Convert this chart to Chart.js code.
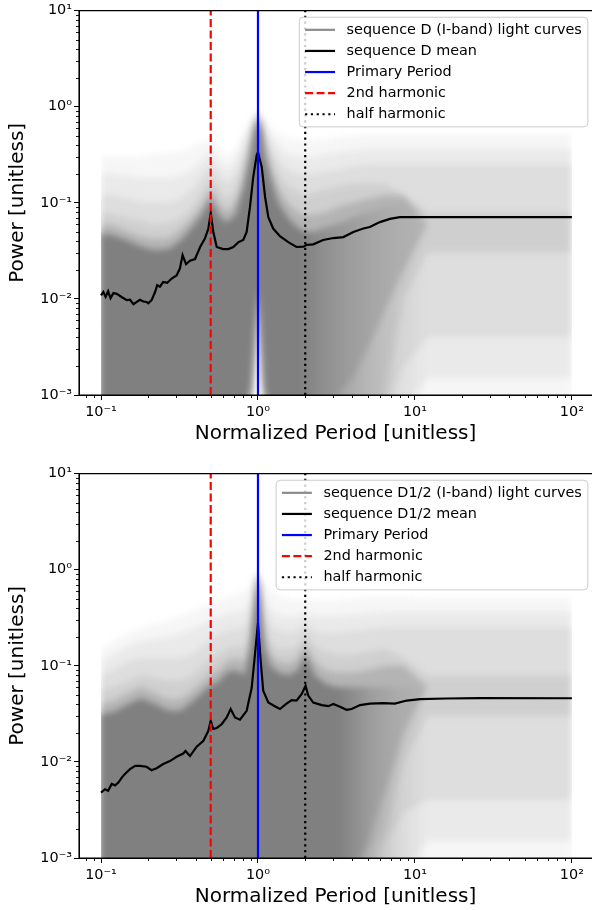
<!DOCTYPE html>
<html>
<head>
<meta charset="utf-8">
<script src="https://cdn.jsdelivr.net/npm/chart.js@4.4.1/dist/chart.umd.min.js"></script>
<style>
  html, body { margin: 0; padding: 0; background: #fff; overflow: hidden; }
  body { width: 592px; height: 910px; position: relative; }
  canvas { position: absolute; left: 0; }
  #chartD { top: 0; }
  #chartHalf { top: 463px; }
</style>
</head>
<body>
<canvas id="chartD" width="592" height="460"></canvas>
<canvas id="chartHalf" width="592" height="460"></canvas>
<script>
const cloudPeriods = [0.1, 0.12, 0.15, 0.18, 0.22, 0.27, 0.32, 0.38, 0.44, 0.5,
  0.56, 0.63, 0.72, 0.82, 0.9, 0.95, 1.0, 1.05, 1.1, 1.2,
  1.35, 1.55, 1.8, 2.0, 2.3, 2.7, 3.2, 4.0, 5.0, 6.5,
  8.5, 12, 20, 35, 60, 100];

// ---- sequence D: saturated core of the cloud + halo bands (1 = innermost)
// (the curves run on below 1e-3, so the floors sit a little under the axis)
const coreLoD = [0.0007, 0.0007, 0.0007, 0.0007, 0.0007, 0.0007, 0.0007, 0.0007, 0.0007, 0.0007,
  0.0007, 0.0007, 0.0007, 0.0007, 0.0012, 0.005, 0.013, 0.005, 0.0012, 0.0007,
  0.0007, 0.0007, 0.0007, 0.0007, 0.0007, 0.0007, 0.0007, 0.0007, 0.0007, 0.0007,
  0.0007, 0.0007, 0.0007, 0.0007, 0.0007, 0.0007];
const coreHiD = [0.048, 0.046, 0.040, 0.035, 0.032, 0.033, 0.040, 0.055, 0.075, 0.11,
  0.075, 0.062, 0.075, 0.15, 0.32, 0.55, 0.72, 0.55, 0.32, 0.18,
  0.10, 0.07, 0.055, 0.05, 0.05, 0.055, 0.06, 0.07, 0.08, 0.09,
  0.1, 0.1, 0.1, 0.1, 0.1, 0.1];
const halo1LoD = [0.0007, 0.0007, 0.0007, 0.0007, 0.0007, 0.0007, 0.0007, 0.0007, 0.0007, 0.0007,
  0.0007, 0.0007, 0.0007, 0.0007, 0.0009, 0.003, 0.01, 0.003, 0.0009, 0.0007,
  0.0007, 0.0007, 0.0007, 0.0007, 0.0007, 0.0007, 0.001, 0.0015, 0.003, 0.008,
  0.02, 0.06, 0.06, 0.06, 0.06, 0.06];
const halo1HiD = [0.06, 0.058, 0.05, 0.045, 0.042, 0.043, 0.052, 0.07, 0.095, 0.14,
  0.1, 0.08, 0.1, 0.2, 0.4, 0.62, 0.78, 0.62, 0.42, 0.24,
  0.14, 0.1, 0.08, 0.075, 0.075, 0.08, 0.09, 0.1, 0.11, 0.12,
  0.12, 0.06, 0.06, 0.06, 0.06, 0.06];
const halo2LoD = [0.0007, 0.0007, 0.0007, 0.0007, 0.0007, 0.0007, 0.0007, 0.0007, 0.0007, 0.0007,
  0.0007, 0.0007, 0.0007, 0.0007, 0.0007, 0.0025, 0.008, 0.0025, 0.0007, 0.0007,
  0.0007, 0.0007, 0.0007, 0.0007, 0.0007, 0.0007, 0.0007, 0.0007, 0.0007, 0.001,
  0.01, 0.03, 0.03, 0.03, 0.03, 0.03];
const halo2HiD = [0.08, 0.075, 0.07, 0.065, 0.06, 0.062, 0.07, 0.09, 0.13, 0.18,
  0.14, 0.11, 0.14, 0.28, 0.5, 0.7, 0.82, 0.7, 0.5, 0.32,
  0.2, 0.15, 0.13, 0.12, 0.13, 0.14, 0.15, 0.16, 0.16, 0.16,
  0.12, 0.08, 0.08, 0.08, 0.08, 0.08];
const halo3LoD = [0.0007, 0.0007, 0.0007, 0.0007, 0.0007, 0.0007, 0.0007, 0.0007, 0.0007, 0.0007,
  0.0007, 0.0007, 0.0007, 0.0007, 0.0007, 0.002, 0.006, 0.002, 0.0007, 0.0007,
  0.0007, 0.0007, 0.0007, 0.0007, 0.0007, 0.0007, 0.0007, 0.0007, 0.0007, 0.0007,
  0.002, 0.004, 0.004, 0.004, 0.004, 0.004];
const halo3HiD = [0.12, 0.12, 0.11, 0.1, 0.1, 0.1, 0.11, 0.14, 0.19, 0.25,
  0.2, 0.16, 0.2, 0.36, 0.58, 0.76, 0.86, 0.76, 0.58, 0.4,
  0.28, 0.22, 0.2, 0.2, 0.2, 0.21, 0.22, 0.24, 0.25, 0.25,
  0.25, 0.25, 0.25, 0.25, 0.25, 0.25];
const halo4LoD = [0.0007, 0.0007, 0.0007, 0.0007, 0.0007, 0.0007, 0.0007, 0.0007, 0.0007, 0.0007,
  0.0007, 0.0007, 0.0007, 0.0007, 0.0007, 0.002, 0.006, 0.002, 0.0007, 0.0007,
  0.0007, 0.0007, 0.0007, 0.0007, 0.0007, 0.0007, 0.0007, 0.0007, 0.0007, 0.0007,
  0.0007, 0.0015, 0.0015, 0.0015, 0.0015, 0.0015];
const halo4HiD = [0.2, 0.2, 0.19, 0.18, 0.18, 0.18, 0.19, 0.22, 0.28, 0.33,
  0.27, 0.22, 0.27, 0.45, 0.65, 0.8, 0.88, 0.8, 0.65, 0.5,
  0.38, 0.32, 0.3, 0.3, 0.3, 0.32, 0.33, 0.35, 0.36, 0.36,
  0.36, 0.36, 0.36, 0.36, 0.36, 0.36];
const halo5LoD = [0.0007, 0.0007, 0.0007, 0.0007, 0.0007, 0.0007, 0.0007, 0.0007, 0.0007, 0.0007,
  0.0007, 0.0007, 0.0007, 0.0007, 0.0007, 0.0015, 0.004, 0.0015, 0.0007, 0.0007,
  0.0007, 0.0007, 0.0007, 0.0007, 0.0007, 0.0007, 0.0007, 0.0007, 0.0007, 0.0007,
  0.0007, 0.0007, 0.0007, 0.0007, 0.0007, 0.0007];
const halo5HiD = [0.3, 0.3, 0.3, 0.3, 0.32, 0.33, 0.34, 0.38, 0.43, 0.45,
  0.36, 0.3, 0.36, 0.55, 0.72, 0.85, 0.92, 0.85, 0.75, 0.62,
  0.52, 0.47, 0.45, 0.45, 0.45, 0.46, 0.48, 0.5, 0.52, 0.52,
  0.52, 0.52, 0.52, 0.52, 0.52, 0.52];

const meanPeriodD = [0.1, 0.1035, 0.107, 0.111, 0.115, 0.12, 0.126, 0.136, 0.146, 0.153,
  0.161, 0.169, 0.177, 0.186, 0.195, 0.2, 0.21, 0.221, 0.228, 0.237,
  0.249, 0.264, 0.282, 0.303, 0.318, 0.331, 0.348, 0.369, 0.397, 0.428,
  0.459, 0.483, 0.5, 0.519, 0.546, 0.6, 0.647, 0.697, 0.75, 0.806,
  0.847, 0.889, 0.933, 0.98, 1.0, 1.057, 1.11, 1.164, 1.25, 1.38,
  1.56, 1.76, 1.95, 2.04, 2.25, 2.6, 3.02, 3.5, 4.05, 4.69,
  5.16, 5.98, 6.93, 8.02, 9.7, 20, 50, 100];
const meanPowerD = [0.0109, 0.0118, 0.0105, 0.012, 0.0102, 0.0115, 0.0113, 0.0104, 0.0097, 0.0098,
  0.0088, 0.0093, 0.0098, 0.0094, 0.0093, 0.009, 0.0097, 0.0118, 0.0139, 0.0134,
  0.015, 0.0147, 0.0163, 0.0175, 0.0207, 0.0285, 0.023, 0.025, 0.026, 0.0347,
  0.0424, 0.054, 0.078, 0.05, 0.0347, 0.033, 0.033, 0.0347, 0.039, 0.041,
  0.0498, 0.09, 0.185, 0.31, 0.337, 0.235, 0.115, 0.071, 0.054, 0.045,
  0.039, 0.0347, 0.035, 0.0365, 0.037, 0.041, 0.043, 0.044, 0.0498, 0.054,
  0.056, 0.063, 0.068, 0.071, 0.071, 0.071, 0.071, 0.071];

// ---- sequence D1/2
const coreLoHalf = [0.0007, 0.0007, 0.0007, 0.0007, 0.0007, 0.0007, 0.0007, 0.0007, 0.0007, 0.0007,
  0.0007, 0.0007, 0.0007, 0.0007, 0.0007, 0.0007, 0.0007, 0.0007, 0.0007, 0.0007,
  0.0007, 0.0007, 0.0007, 0.0007, 0.0007, 0.0007, 0.0007, 0.0007, 0.0007, 0.0007,
  0.0007, 0.0007, 0.0007, 0.0007, 0.0007, 0.0007];
const coreHiHalf = [0.031, 0.033, 0.04, 0.046, 0.04, 0.034, 0.034, 0.042, 0.052, 0.063,
  0.068, 0.085, 0.09, 0.08, 0.15, 0.35, 0.85, 0.3, 0.15, 0.1,
  0.085, 0.08, 0.09, 0.13, 0.08, 0.065, 0.06, 0.06, 0.06, 0.06,
  0.06, 0.06, 0.06, 0.06, 0.06, 0.06];
const halo1LoHalf = [0.0007, 0.0007, 0.0007, 0.0007, 0.0007, 0.0007, 0.0007, 0.0007, 0.0007, 0.0007,
  0.0007, 0.0007, 0.0007, 0.0007, 0.0007, 0.0007, 0.0007, 0.0007, 0.0007, 0.0007,
  0.0007, 0.0007, 0.0007, 0.0007, 0.0007, 0.0007, 0.0007, 0.0007, 0.0015, 0.005,
  0.02, 0.06, 0.06, 0.06, 0.06, 0.06];
const halo1HiHalf = [0.04, 0.043, 0.052, 0.06, 0.052, 0.045, 0.045, 0.055, 0.068, 0.082,
  0.09, 0.11, 0.12, 0.11, 0.2, 0.45, 0.9, 0.4, 0.2, 0.13,
  0.11, 0.105, 0.12, 0.17, 0.11, 0.09, 0.085, 0.085, 0.09, 0.1,
  0.1, 0.06, 0.06, 0.06, 0.06, 0.06];
const halo2LoHalf = [0.0007, 0.0007, 0.0007, 0.0007, 0.0007, 0.0007, 0.0007, 0.0007, 0.0007, 0.0007,
  0.0007, 0.0007, 0.0007, 0.0007, 0.0007, 0.0007, 0.0007, 0.0007, 0.0007, 0.0007,
  0.0007, 0.0007, 0.0007, 0.0007, 0.0007, 0.0007, 0.0007, 0.0007, 0.0012, 0.002,
  0.01, 0.03, 0.03, 0.03, 0.03, 0.03];
const halo2HiHalf = [0.055, 0.06, 0.07, 0.08, 0.075, 0.07, 0.07, 0.08, 0.1, 0.12,
  0.13, 0.15, 0.16, 0.16, 0.28, 0.55, 0.92, 0.5, 0.28, 0.18,
  0.15, 0.15, 0.16, 0.22, 0.16, 0.14, 0.13, 0.13, 0.14, 0.15,
  0.12, 0.08, 0.08, 0.08, 0.08, 0.08];
const halo3LoHalf = [0.0007, 0.0007, 0.0007, 0.0007, 0.0007, 0.0007, 0.0007, 0.0007, 0.0007, 0.0007,
  0.0007, 0.0007, 0.0007, 0.0007, 0.0007, 0.0007, 0.0007, 0.0007, 0.0007, 0.0007,
  0.0007, 0.0007, 0.0007, 0.0007, 0.0007, 0.0007, 0.0007, 0.0007, 0.0007, 0.0015,
  0.003, 0.004, 0.004, 0.004, 0.004, 0.004];
const halo3HiHalf = [0.08, 0.09, 0.11, 0.12, 0.12, 0.12, 0.12, 0.13, 0.16, 0.19,
  0.21, 0.23, 0.24, 0.25, 0.38, 0.65, 0.95, 0.6, 0.38, 0.27,
  0.23, 0.22, 0.23, 0.28, 0.23, 0.22, 0.22, 0.23, 0.24, 0.25,
  0.25, 0.25, 0.25, 0.25, 0.25, 0.25];
const halo4LoHalf = [0.0007, 0.0007, 0.0007, 0.0007, 0.0007, 0.0007, 0.0007, 0.0007, 0.0007, 0.0007,
  0.0007, 0.0007, 0.0007, 0.0007, 0.0007, 0.0007, 0.0007, 0.0007, 0.0007, 0.0007,
  0.0007, 0.0007, 0.0007, 0.0007, 0.0007, 0.0007, 0.0007, 0.0007, 0.0007, 0.0007,
  0.0007, 0.0015, 0.0015, 0.0015, 0.0015, 0.0015];
const halo4HiHalf = [0.11, 0.13, 0.16, 0.18, 0.19, 0.2, 0.22, 0.24, 0.27, 0.3,
  0.32, 0.35, 0.36, 0.38, 0.5, 0.75, 0.98, 0.7, 0.5, 0.38,
  0.33, 0.32, 0.33, 0.36, 0.33, 0.33, 0.33, 0.34, 0.35, 0.36,
  0.36, 0.36, 0.36, 0.36, 0.36, 0.36];
const halo5LoHalf = coreLoHalf;
const halo5HiHalf = [0.15, 0.18, 0.22, 0.25, 0.27, 0.3, 0.33, 0.37, 0.41, 0.45,
  0.48, 0.52, 0.55, 0.6, 0.7, 0.85, 1.0, 0.82, 0.7, 0.6,
  0.55, 0.5, 0.48, 0.5, 0.48, 0.48, 0.48, 0.5, 0.52, 0.52,
  0.52, 0.5, 0.5, 0.5, 0.5, 0.5];

const meanPeriodHalf = [0.1, 0.106, 0.111, 0.117, 0.123, 0.129, 0.136, 0.142, 0.153, 0.165,
  0.177, 0.195, 0.21, 0.226, 0.249, 0.275, 0.303, 0.334, 0.345, 0.369,
  0.407, 0.449, 0.483, 0.5, 0.519, 0.546, 0.587, 0.632, 0.67, 0.714,
  0.768, 0.847, 0.912, 0.957, 1.0, 1.04, 1.08, 1.164, 1.28, 1.38,
  1.52, 1.64, 1.76, 1.9, 2.01, 2.09, 2.25, 2.55, 2.81, 3.02,
  3.33, 3.67, 3.95, 4.47, 5.16, 6.28, 7.46, 8.86, 10.8, 15.9,
  26, 100];
const meanPowerHalf = [0.0048, 0.0052, 0.005, 0.0059, 0.0057, 0.0061, 0.0069, 0.0075, 0.0084, 0.0091,
  0.0091, 0.0089, 0.0082, 0.0086, 0.0095, 0.0102, 0.0113, 0.0122, 0.013, 0.0115,
  0.0144, 0.0166, 0.0211, 0.0268, 0.022, 0.0225, 0.0247, 0.029, 0.0355, 0.029,
  0.0275, 0.034, 0.059, 0.132, 0.28, 0.113, 0.055, 0.0415, 0.038, 0.0355,
  0.0405, 0.044, 0.0435, 0.051, 0.062, 0.049, 0.0415, 0.039, 0.038, 0.04,
  0.0375, 0.0348, 0.0355, 0.039, 0.0405, 0.041, 0.0405, 0.0435, 0.045, 0.0457,
  0.0462, 0.046];

// reference periods and axes
const harmonicPeriods = [1, 0.5, 2];
const xTickValues = [0.1, 1, 10, 100];
const xTickLabels = ['10\u207b\u00b9', '10\u2070', '10\u00b9', '10\u00b2'];
const yTickValues = [0.001, 0.01, 0.1, 1, 10];
const yTickLabels = ['10\u207b\u00b3', '10\u207b\u00b2', '10\u207b\u00b9', '10\u2070', '10\u00b9'];
const legendLabelsD = ['sequence D (I-band) light curves', 'sequence D mean', 'Primary Period', '2nd harmonic', 'half harmonic'];
const legendLabelsHalf = ['sequence D1/2 (I-band) light curves', 'sequence D1/2 mean', 'Primary Period', '2nd harmonic', 'half harmonic'];

// styles
const harmonicStyles = [
  {color: '#0000ff', dash: []},
  {color: '#ff0000', dash: [8, 3.5]},
  {color: '#000000', dash: [2.2, 3.6]}
];
const legendHandles = [{color: '#8c8c8c', dash: []}, {color: '#000000', dash: []}].concat(harmonicStyles);
const haloAlpha = [0.35, 0.15, 0.12, 0.10, 0.07];
const coreFadeD = [[1.9, 1], [2.2, 0.85], [3, 0.6], [5, 0.3], [8, 0.1], [12, 0]];
const coreFadeHalf = [[3.2, 1], [4, 0.75], [5.5, 0.4], [8, 0.15], [12, 0]];
const cloudBlur = 'blur(3px)';
// the original axes run to ~141; the figure is cropped at 592 px, i.e. ~134
const xMin = 0.0724, xMax = 134.3;

Chart.defaults.font.family = '"DejaVu Sans", sans-serif';
Chart.defaults.color = '#000';

function points(xs, ys) {
  return xs.map((x, i) => ({x: x, y: ys[i]}));
}

function coreFill(stops) {
  return (context) => {
    const chart = context.chart;
    const area = chart.chartArea;
    if (!area) return 'rgb(128,128,128)';
    const xs = chart.scales.x;
    const g = chart.ctx.createLinearGradient(area.left, 0, area.right, 0);
    g.addColorStop(0, 'rgba(128,128,128,1)');
    stops.forEach(([p, a]) => {
      const t = (xs.getPixelForValue(p) - area.left) / (area.right - area.left);
      g.addColorStop(Math.min(1, Math.max(0, t)), 'rgba(128,128,128,' + a + ')');
    });
    return g;
  };
}

function addBand(datasets, lo, hi, color, order) {
  datasets.push({data: points(cloudPeriods, lo), borderColor: 'transparent', borderWidth: 0, fill: false, order: order});
  datasets.push({data: points(cloudPeriods, hi), borderColor: 'transparent', borderWidth: 0, fill: '-1', backgroundColor: color, order: order});
}

function roundRect(ctx, x, y, w, h, r) {
  ctx.beginPath();
  ctx.moveTo(x + r, y);
  ctx.arcTo(x + w, y, x + w, y + h, r);
  ctx.arcTo(x + w, y + h, x, y + h, r);
  ctx.arcTo(x, y + h, x, y, r);
  ctx.arcTo(x, y, x + w, y, r);
  ctx.closePath();
}

const mplAxes = {
  id: 'mplAxes',
  // the cloud fills are painted (by the filler) between these two hooks:
  // soften them and keep them right of the first sampled period
  beforeDraw(chart) {
    const {ctx, chartArea: a, scales: {x}} = chart;
    const left = x.getPixelForValue(cloudPeriods[0]);
    ctx.save();
    ctx.beginPath();
    ctx.rect(left, a.top, a.right - left, a.bottom - a.top);
    ctx.clip();
    ctx.filter = cloudBlur;
  },
  beforeDatasetsDraw(chart) {
    chart.ctx.restore();
  },
  afterDatasetsDraw(chart) {
    const {ctx, chartArea: a, scales: {x, y}} = chart;
    ctx.save();
    ctx.strokeStyle = '#000';
    ctx.lineWidth = 0.9;
    ctx.beginPath();
    for (let e = -3; e <= 2; e++) {
      for (let k = 2; k <= 9; k++) {
        const v = k * Math.pow(10, e);
        if (v > x.min && v < x.max) {
          const px = Math.round(x.getPixelForValue(v)) + 0.5;
          ctx.moveTo(px, a.bottom);
          ctx.lineTo(px, a.bottom + 3);
        }
        if (v > y.min && v < y.max) {
          const py = Math.round(y.getPixelForValue(v)) + 0.5;
          ctx.moveTo(a.left, py);
          ctx.lineTo(a.left - 3, py);
        }
      }
    }
    ctx.stroke();
    ctx.lineWidth = 1.15;
    ctx.beginPath();
    ctx.moveTo(a.left, a.bottom);
    ctx.lineTo(a.left, a.top);
    ctx.lineTo(a.right, a.top);
    ctx.moveTo(a.left, a.bottom);
    ctx.lineTo(a.right, a.bottom);
    ctx.stroke();
    ctx.restore();
  },
  afterDraw(chart, args, opts) {
    const labels = opts.labels || [];
    const {ctx, chartArea: a, scales: {x}} = chart;
    ctx.save();
    ctx.font = '14.4px "DejaVu Sans"';
    const textW = Math.max(...labels.map(t => ctx.measureText(t).width));
    const w = 5.8 + 30 + 11.5 + textW + 6;
    const h = 25.2 + 21.1 * (labels.length - 1);
    // matplotlib pads the legend 7.2 px inside the full (uncropped) axes
    const right = x.getPixelForValue(141.3) - 7.6;
    const top = a.top + 6.6;
    const left = right - w;
    roundRect(ctx, left, top, w, h, 4);
    ctx.fillStyle = 'rgba(255,255,255,0.8)';
    ctx.fill();
    ctx.strokeStyle = '#cccccc';
    ctx.lineWidth = 1;
    ctx.stroke();
    labels.forEach((t, i) => {
      const cy = top + 12.6 + i * 21.1;
      const st = legendHandles[i];
      ctx.beginPath();
      ctx.setLineDash(st.dash);
      ctx.strokeStyle = st.color;
      ctx.lineWidth = 2.2;
      ctx.moveTo(left + 5.8, cy);
      ctx.lineTo(left + 35.8, cy);
      ctx.stroke();
      ctx.setLineDash([]);
      ctx.fillStyle = '#000';
      ctx.textBaseline = 'middle';
      ctx.textAlign = 'left';
      ctx.fillText(t, left + 47.3, cy);
    });
    ctx.restore();
  }
};

function buildChart(canvasId, p) {
  const datasets = [];
  harmonicPeriods.forEach((period, i) => {
    datasets.push({
      data: [{x: period, y: yTickValues[0]}, {x: period, y: yTickValues[yTickValues.length - 1]}],
      borderColor: harmonicStyles[i].color,
      borderDash: harmonicStyles[i].dash,
      borderWidth: 2.2,
      fill: false,
      order: 0
    });
  });
  datasets.push({data: points(p.meanPeriod, p.meanPower), borderColor: '#000', borderWidth: 2.2, fill: false, order: 1});
  addBand(datasets, p.coreLo, p.coreHi, coreFill(p.fade), 2);
  p.halos.forEach(([lo, hi], i) => addBand(datasets, lo, hi, 'rgba(128,128,128,' + haloAlpha[i] + ')', 3 + i));

  const axisCommon = {
    type: 'logarithmic',
    bounds: 'data',
    grid: {drawOnChartArea: false, drawTicks: true, tickLength: 5, color: '#000', z: 1},
    border: {display: true, color: '#000', width: 1, z: 1}
  };

  return new Chart(document.getElementById(canvasId), {
    type: 'line',
    data: {datasets: datasets},
    plugins: [mplAxes],
    options: {
      responsive: false,
      animation: false,
      events: [],
      layout: {padding: {top: 10, left: 0, right: 0, bottom: 0}},
      elements: {point: {radius: 0}, line: {tension: 0}},
      plugins: {
        legend: {display: false},
        tooltip: {enabled: false},
        filler: {drawTime: 'beforeDatasetsDraw'},
        mplAxes: {labels: p.legend}
      },
      scales: {
        x: Object.assign({}, axisCommon, {
          min: xMin,
          max: xMax,
          afterBuildTicks: (axis) => { axis.ticks = xTickValues.map(v => ({value: v})); },
          afterFit: (axis) => { axis.height = 65; },
          ticks: {
            callback: (v) => xTickLabels[xTickValues.indexOf(v)],
            autoSkip: false, maxRotation: 0, padding: 4, color: '#000', font: {size: 14.4}, z: 1
          },
          title: {display: true, text: 'Normalized Period [unitless]', color: '#000', font: {size: 20}, padding: {top: 0, bottom: 14}}
        }),
        y: Object.assign({}, axisCommon, {
          min: 0.001,
          max: 10,
          afterBuildTicks: (axis) => { axis.ticks = yTickValues.map(v => ({value: v})); },
          afterFit: (axis) => { axis.width = 79; },
          ticks: {
            callback: (v) => yTickLabels[yTickValues.indexOf(v)],
            autoSkip: false, padding: 2, color: '#000', font: {size: 14.4}, z: 1
          },
          title: {display: true, text: 'Power [unitless]', color: '#000', font: {size: 20}, padding: {top: 5.5, bottom: 0}}
        })
      }
    }
  });
}

buildChart('chartD', {
  meanPeriod: meanPeriodD, meanPower: meanPowerD,
  coreLo: coreLoD, coreHi: coreHiD, fade: coreFadeD,
  halos: [[halo1LoD, halo1HiD], [halo2LoD, halo2HiD], [halo3LoD, halo3HiD], [halo4LoD, halo4HiD], [halo5LoD, halo5HiD]],
  legend: legendLabelsD
});
buildChart('chartHalf', {
  meanPeriod: meanPeriodHalf, meanPower: meanPowerHalf,
  coreLo: coreLoHalf, coreHi: coreHiHalf, fade: coreFadeHalf,
  halos: [[halo1LoHalf, halo1HiHalf], [halo2LoHalf, halo2HiHalf], [halo3LoHalf, halo3HiHalf], [halo4LoHalf, halo4HiHalf], [halo5LoHalf, halo5HiHalf]],
  legend: legendLabelsHalf
});
</script>
</body>
</html>
